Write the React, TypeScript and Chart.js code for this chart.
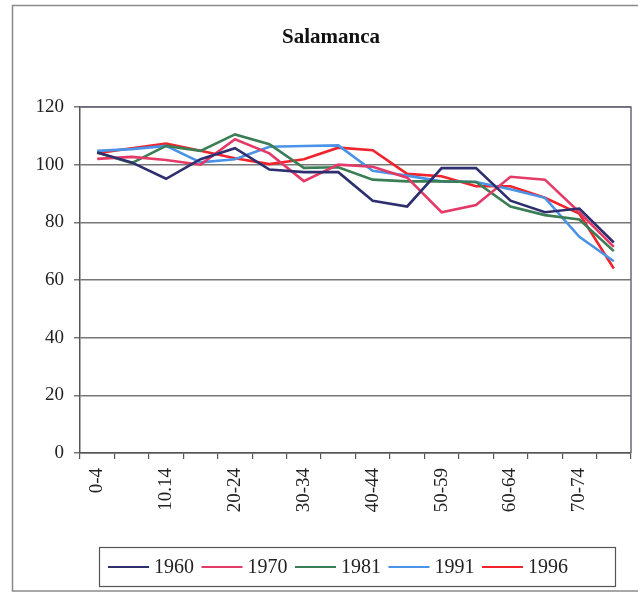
import React, { useEffect, useRef } from "react";
import { Chart, registerables } from "chart.js";

Chart.register(...registerables);

const categories = ["0-4", "5-9", "10.14", "15-19", "20-24", "25-29", "30-34", "35-39", "40-44", "45-49", "50-59", "55-59", "60-64", "65-69", "70-74", "75-79"];
const yTicks = [0, 20, 40, 60, 80, 100, 120];
const seriesNames = ["1960", "1970", "1981", "1991", "1996"];
const s1960 = [104.2, 100.8, 95.1, 101.9, 105.7, 98.3, 97.4, 97.4, 87.5, 85.5, 98.8, 98.8, 87.5, 83.5, 84.8, 73];
const s1970 = [102, 102.7, 101.6, 100, 108.8, 103.9, 94.3, 100, 99.3, 95.5, 83.5, 86, 95.8, 94.8, 83.5, 71.5];
const s1981 = [104.2, 100.5, 106.5, 104.8, 110.5, 107.1, 98.9, 99.1, 94.8, 94.2, 94.2, 94, 85.5, 82.5, 81, 70];
const s1991 = [104.8, 105.4, 106.5, 100.8, 101.9, 106.2, 106.5, 106.7, 97.9, 96.2, 94.2, 94, 91.5, 88.5, 75, 66.5];
const s1996 = [104, 105.7, 107.3, 104.8, 102.2, 100.2, 101.9, 105.9, 105, 96.8, 96, 92.5, 92.5, 88.5, 83, 64];
const seriesValues = [s1960, s1970, s1981, s1991, s1996];
const colors = ["#2d2f6e", "#e43a68", "#3b7d55", "#4a93e6", "#f0242c"];

const SERIF = '"Liberation Serif", "Times New Roman", serif';

const decorPlugin = {
  id: "decor",
  afterDraw(chart: any) {
    const ctx = chart.ctx;
    ctx.save();
    // outer frame
    ctx.strokeStyle = "#8a8a8a";
    ctx.lineWidth = 1.5;
    ctx.beginPath();
    ctx.moveTo(660, 5.5);
    ctx.lineTo(12.5, 5.5);
    ctx.lineTo(12.5, 591);
    ctx.lineTo(660, 591);
    ctx.stroke();
    // title
    ctx.fillStyle = "#111";
    ctx.font = `bold 21px ${SERIF}`;
    ctx.textAlign = "center";
    ctx.textBaseline = "middle";
    ctx.fillText("Salamanca", 331, 38);
    // plot border right/top
    const a = chart.chartArea;
    ctx.strokeStyle = "#6a6a7a";
    ctx.lineWidth = 1.5;
    ctx.beginPath();
    ctx.moveTo(a.left, a.top);
    ctx.lineTo(a.right, a.top);
    ctx.lineTo(a.right, a.bottom);
    ctx.stroke();
    // legend
    const lx = 99.5, ly = 547.5, lw = 516, lh = 39;
    ctx.strokeStyle = "#555";
    ctx.lineWidth = 1.2;
    ctx.strokeRect(lx, ly, lw, lh);
    ctx.font = `20px ${SERIF}`;
    ctx.textAlign = "left";
    ctx.textBaseline = "middle";
    seriesNames.forEach((name, i) => {
      const x0 = 108 + i * 93.5;
      const y = ly + lh / 2;
      ctx.strokeStyle = colors[i];
      ctx.lineWidth = 2;
      ctx.beginPath();
      ctx.moveTo(x0, y);
      ctx.lineTo(x0 + 41, y);
      ctx.stroke();
      ctx.fillStyle = "#222";
      ctx.fillText(name, x0 + 46, y + 1);
    });
    ctx.restore();
  },
};

export default function App() {
  const ref = useRef<HTMLCanvasElement>(null);
  useEffect(() => {
    document.body.style.margin = "0";
    const chart = new Chart(ref.current as HTMLCanvasElement, {
      type: "line",
      data: {
        labels: categories,
        datasets: seriesNames.map((n, i) => ({
          label: n,
          data: seriesValues[i],
          borderColor: colors[i],
          backgroundColor: colors[i],
          borderWidth: 2.6,
          pointRadius: 0,
          tension: 0,
        })),
      },
      options: {
        animation: false,
        responsive: false,
        layout: { padding: { left: 0, right: 7, top: 107, bottom: 65 } },
        plugins: {
          legend: { display: false },
          title: { display: false },
          tooltip: { enabled: false },
        },
        scales: {
          x: {
            offset: true,
            grid: {
              offset: true,
              drawOnChartArea: false,
              drawTicks: true,
              tickLength: 6,
              color: "#555",
              lineWidth: 1.2,
            },
            border: { color: "#555", width: 1.5 },
            ticks: {
              autoSkip: false,
              minRotation: 90,
              maxRotation: 90,
              color: "#222",
              padding: 9,
              font: { family: SERIF, size: 19 },
              callback: (_v: any, i: number) => (i % 2 === 0 ? categories[i] : ""),
            },
            afterFit: (s: any) => {
              s.height = 75;
              s.paddingLeft = 0;
              s.paddingRight = 0;
            },
          },
          y: {
            min: 0,
            max: 120,
            afterBuildTicks: (s: any) => {
              s.ticks = yTicks.map((v) => ({ value: v }));
            },
            grid: {
              color: "#777",
              lineWidth: 1.5,
              tickLength: 6,
            },
            border: { color: "#555", width: 1.5 },
            ticks: {
              color: "#222",
              padding: 10,
              font: { family: SERIF, size: 19 },
            },
            afterFit: (s: any) => {
              s.width = 80;
              s.paddingTop = 0;
              s.paddingBottom = 0;
            },
          },
        },
      },
      plugins: [decorPlugin],
    });
    return () => chart.destroy();
  }, []);
  return (
    <div style={{ width: 638, height: 593, background: "#fff" }}>
      <canvas ref={ref} width={638} height={593} style={{ display: "block" }} />
    </div>
  );
}
